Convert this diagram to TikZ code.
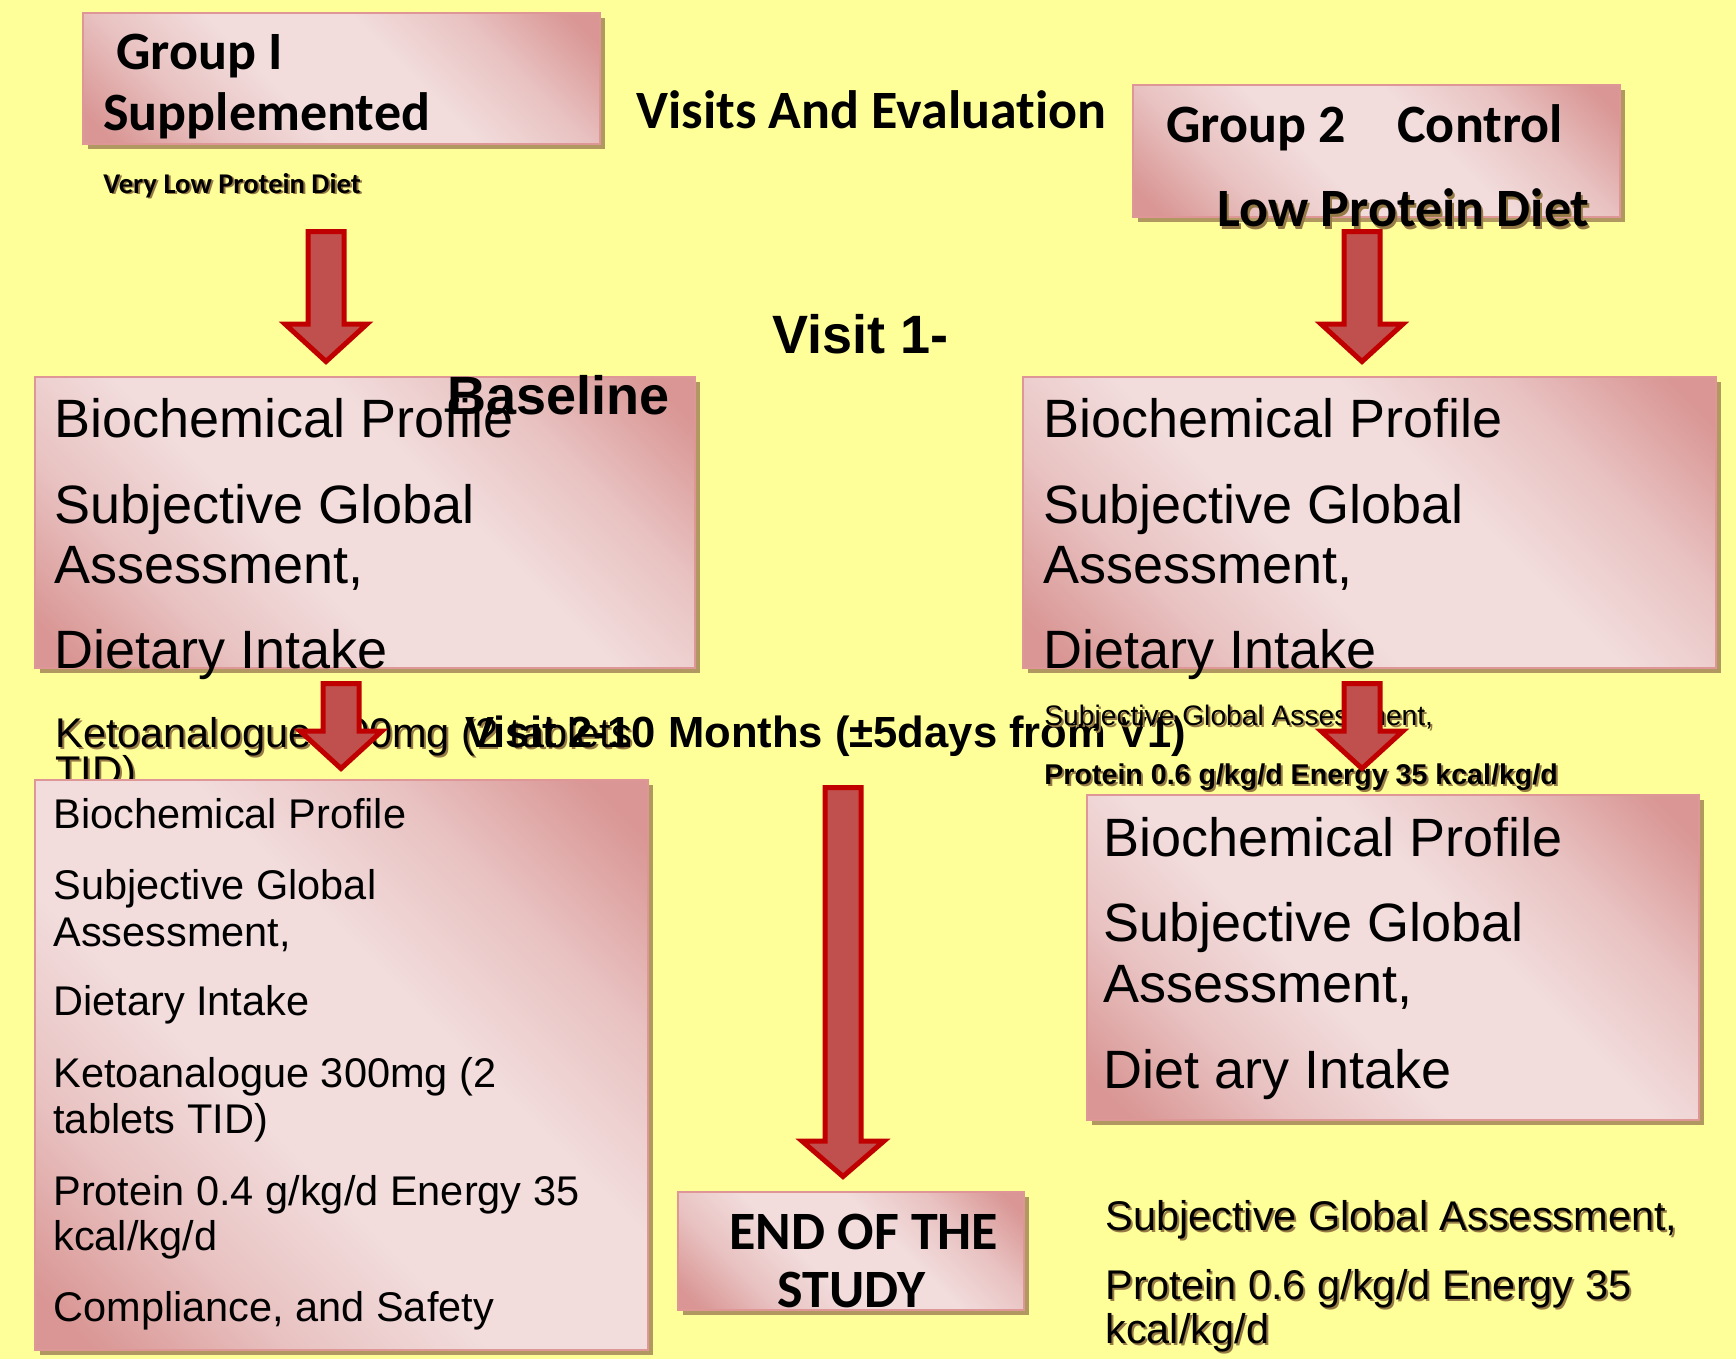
\documentclass[tikz,border=0pt]{standalone}
\usepackage{fontspec}
\setmainfont{Liberation Sans}
\newfontfamily\carl{Carlito}[Ligatures=NoCommon]
\usetikzlibrary{fit,shadows}
\definecolor{bgyellow}{RGB}{255,255,153}
\definecolor{plight}{RGB}{242,220,220}
\definecolor{pmid}{RGB}{232,194,193}
\definecolor{pdark}{RGB}{217,150,148}
\definecolor{pborder}{RGB}{222,150,150}
\definecolor{bshadow}{RGB}{176,152,96}
\definecolor{tshadow}{RGB}{150,122,70}
\definecolor{afill}{RGB}{192,80,77}
\definecolor{aline}{RGB}{192,0,0}
\pgfdeclarehorizontalshading{pinkgrad}{100bp}{color(0bp)=(pdark); color(18bp)=(pdark); color(30bp)=(pmid); color(42bp)=(plight); color(58bp)=(plight); color(70bp)=(pmid); color(82bp)=(pdark); color(100bp)=(pdark)}
\tikzset{
  pbox/.style={draw=pborder, line width=1.2pt, shading=pinkgrad, shading angle=45, inner sep=0pt,
    drop shadow={shadow xshift=2.5pt, shadow yshift=-2.5pt, fill=bshadow, opacity=1}},
  barrow/.style={fill=afill, draw=aline, line width=2.5pt, line join=miter},
  tbase/.style={inner sep=0pt, anchor=base west},
  tA/.style={tbase, font=\fontsize{27}{27}\selectfont},
  tB/.style={tbase, font=\fontsize{20.75}{20.75}\selectfont},
  tC/.style={tbase, font=\carl\bfseries\fontsize{27}{27}\selectfont},
  tCs/.style={tbase, font=\carl\bfseries\fontsize{14.3}{14.3}\selectfont},
  tS/.style={tbase, font=\fontsize{14.1}{14.1}\selectfont},
  tSb/.style={tbase, font=\bfseries\fontsize{14.3}{14.3}\selectfont},
  tV/.style={tbase, font=\bfseries\fontsize{27}{27}\selectfont},
  tV2/.style={tbase, font=\bfseries\fontsize{21.8}{21.8}\selectfont},
  shd/.style={text=tshadow, xshift=1pt, yshift=-1pt}
}
\newcommand\shtxt[4]{%
  \node[#3, shd] (#1s) at #2 {#4};
  \node[#3] (#1) at #2 {#4};}
\newcommand\blockarrow[5]{%
  \path[barrow] (#2-18,#3+2.5) -- (#2+18,#3+2.5) -- (#2+18,#4) -- (#2+41,#4)
     -- (#2,#5-3.5) -- (#2-41,#4) -- (#2-18,#4) -- cycle;
  \coordinate (#1) at (#2,#3);}
\begin{document}
\begin{tikzpicture}[x=0.5pt,y=-0.5pt]
\fill[bgyellow] (0,0) rectangle (1736,1359);
\useasboundingbox (0,0) rectangle (1736,1359);

% text lying under the lower-left box
\shtxt{keto}{(55,747)}{tB}{Ketoanalogue 300mg (2 tablets}
\shtxt{ketob}{(55,785)}{tB}{TID)}

% boxes
\node[pbox, fit={(83,13) (600,144)}] (g1) {};
\node[pbox, fit={(1133,85) (1620,217)}] (g2) {};
\node[pbox, fit={(35,377) (695,668)}] (b1l) {};
\node[pbox, fit={(1023,377) (1716,668)}] (b1r) {};
\node[pbox, fit={(35,780) (648,1350)}] (b2l) {};
\node[pbox, fit={(1087,795) (1699,1120)}] (b2r) {};
\node[pbox, fit={(678,1192) (1024,1310)}] (endb) {};

% headers
\node[tC] (g1a) at (116,70) {Group I};
\node[tC] (g1b) at (103,131) {Supplemented};
\shtxt{vlpd}{(103,193)}{tCs}{Very Low Protein Diet}
\node[tC] (vae) at (636,129) {Visits And Evaluation};
\node[tC] (g2a) at (1166,143) {Group 2};
\node[tC] (g2b) at (1397,143) {Control};
\shtxt{lpd}{(1217,227)}{tC}{Low Protein Diet}

% visit 1 boxes
\node[tA] (l1a) at (54,437) {Biochemical Profile};
\node[tA] (l1b) at (54,523) {Subjective Global};
\node[tA] (l1c) at (54,583) {Assessment,};
\node[tA] (l1d) at (54,668) {Dietary Intake};
\node[tA] (r1a) at (1043,437) {Biochemical Profile};
\node[tA] (r1b) at (1043,523) {Subjective Global};
\node[tA] (r1c) at (1043,583) {Assessment,};
\node[tA] (r1d) at (1043,668) {Dietary Intake};
\node[tV] (v1) at (772,353) {Visit 1-};
\node[tV] (v1b) at (447,414) {Baseline};

% visit 2 line
\node[tV2] (v2) at (465,747) {Visit 2-10 Months (\char"00B1 5days from V1)};
\shtxt{rsga}{(1044,725)}{tS}{Subjective Global Assessment,}
\shtxt{rprot}{(1044,784)}{tSb}{Protein 0.6 g/kg/d Energy 35 kcal/kg/d}

% lower-left box
\node[tB] (l2a) at (53,828) {Biochemical Profile};
\node[tB] (l2b) at (53,899) {Subjective Global};
\node[tB] (l2c) at (53,946) {Assessment,};
\node[tB] (l2d) at (53,1015) {Dietary Intake};
\node[tB] (l2e) at (53,1087) {Ketoanalogue 300mg (2};
\node[tB] (l2f) at (53,1133) {tablets TID)};
\node[tB] (l2g) at (53,1205) {Protein 0.4 g/kg/d Energy 35};
\node[tB] (l2h) at (53,1250) {kcal/kg/d};
\node[tB] (l2i) at (53,1321) {Compliance, and Safety};

% lower-right box
\node[tA] (r2a) at (1103,856) {Biochemical Profile};
\node[tA] (r2b) at (1103,941) {Subjective Global};
\node[tA] (r2c) at (1103,1002) {Assessment,};
\node[tA] (r2d) at (1103,1088) {Diet ary Intake};

% end of study
\node[tC] (e1) at (729,1249) {END OF THE};
\node[tC] (e2) at (777,1307) {STUDY};

% bottom-right text
\shtxt{bsga}{(1105,1230)}{tB}{Subjective Global Assessment,}
\shtxt{bprot}{(1105,1299)}{tB}{Protein 0.6 g/kg/d Energy 35}
\shtxt{bkcal}{(1105,1343)}{tB}{kcal/kg/d}

% arrows
\blockarrow{a1}{326}{229}{324}{365}
\blockarrow{a2}{1362}{229}{324}{365}
\blockarrow{a3}{341}{681}{731}{772}
\blockarrow{a4}{1362}{681}{731}{772}
\blockarrow{a5}{843}{785}{1141}{1180}
\end{tikzpicture}
\end{document}
